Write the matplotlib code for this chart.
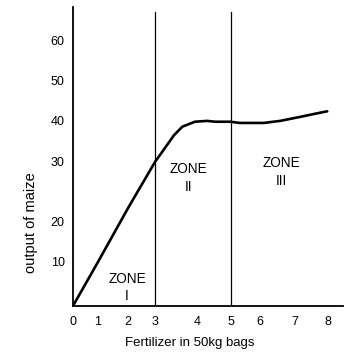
import numpy as np
import matplotlib
matplotlib.use("Agg")
import matplotlib.pyplot as plt

plt.rcParams['font.family'] = ['Liberation Sans', 'DejaVu Sans']

# Hand-drawn axis: tick values and where they sit along the axis (relative)
x_ticks = [0, 1, 2, 3, 4, 5, 6, 7, 8]
x_tick_pos = [0, 25, 55, 82, 124, 158, 187, 222, 255]
y_ticks = [0, 10, 20, 30, 40, 50, 60]
y_tick_pos = [0, 44, 84, 144, 185, 225, 265]

# Output of maize vs fertilizer (50kg bags)
fert = [0, 1, 2, 3, 3.25, 3.45, 3.65, 3.95, 4.29, 4.53, 4.97, 5.31, 6.1, 6.57, 7.15, 7.55, 7.97]
output = [0, 10, 22.3, 30, 33.6, 36.5, 38.6, 39.8, 40, 39.8, 39.8, 39.5, 39.5, 40, 41, 41.7, 42.4]

zone_bounds = [3, 5]
zone_labels = ["ZONE\nI", "ZONE\nII", "ZONE\nIII"]
zone_label_x = [1.97, 3.79, 6.6]
zone_label_y = [4.2, 27.3, 28.3]


def make_scale(vals, pos):
    vals = np.asarray(vals, float)
    pos = np.asarray(pos, float)
    sv = (pos[-1] - pos[-2]) / (vals[-1] - vals[-2])
    s0 = (pos[1] - pos[0]) / (vals[1] - vals[0])

    def fwd(v):
        v = np.asarray(v, float)
        out = np.interp(v, vals, pos)
        out = np.where(v > vals[-1], pos[-1] + (v - vals[-1]) * sv, out)
        out = np.where(v < vals[0], pos[0] + (v - vals[0]) * s0, out)
        return out

    def inv(p):
        p = np.asarray(p, float)
        out = np.interp(p, pos, vals)
        out = np.where(p > pos[-1], vals[-1] + (p - pos[-1]) / sv, out)
        out = np.where(p < pos[0], vals[0] + (p - pos[0]) / s0, out)
        return out
    return fwd, inv


fig = plt.figure(figsize=(3.49, 3.6), dpi=100)
ax = fig.add_axes([0.209, 0.15, 0.774, 0.831])

ax.set_xscale('function', functions=make_scale(x_ticks, x_tick_pos))
ax.set_yscale('function', functions=make_scale(y_ticks, y_tick_pos))

ax.plot(fert, output, color='black', lw=1.9, solid_capstyle='round',
        solid_joinstyle='round')

for b in zone_bounds:
    ax.plot([b, b], [0, 67.3], color='black', lw=0.9)

for lx, ly, t in zip(zone_label_x, zone_label_y, zone_labels):
    ax.text(lx, ly, t, ha='center', va='center', fontsize=9.8, linespacing=1.3)

ax.set_xlim(0, 8.45)
ax.set_ylim(0, 68.5)
ax.set_xticks(x_ticks)
ax.set_xticklabels([str(v) for v in x_ticks])
ax.set_yticks(y_ticks[1:])
ax.set_yticklabels([str(v) for v in y_ticks[1:]])
ax.tick_params(axis='both', length=0, labelsize=9)
ax.tick_params(axis='x', pad=7)
ax.tick_params(axis='y', pad=6)

for s in ['top', 'right']:
    ax.spines[s].set_visible(False)
for s in ['left', 'bottom']:
    ax.spines[s].set_linewidth(1.3)

ax.set_xlabel("Fertilizer in 50kg bags", fontsize=9.5)
ax.xaxis.set_label_coords(0.433, -0.104)
ax.set_ylabel("output of maize", fontsize=10.5)
ax.yaxis.set_label_coords(-0.13, 0.28)

fig.savefig("out.png", dpi=100)
